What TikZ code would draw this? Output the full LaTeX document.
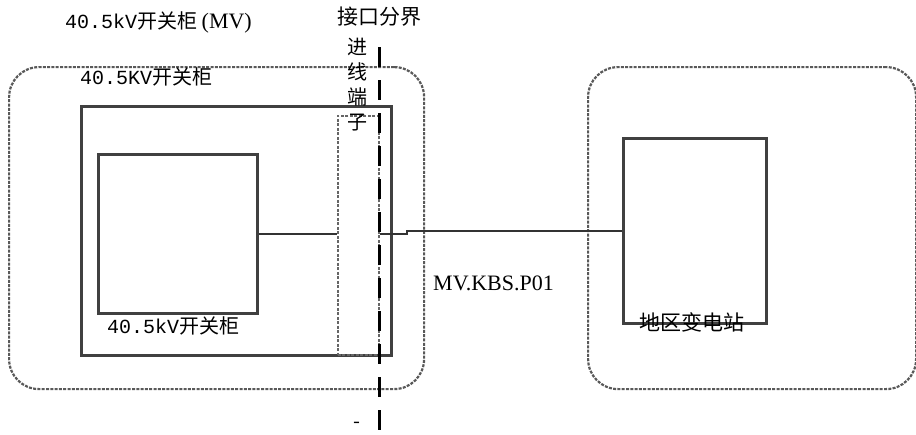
\documentclass[tikz,border=0pt]{standalone}
\usepackage{fontspec}
\setmainfont{Liberation Serif}
\newfontfamily\cjk{Noto Sans CJK SC}
\newfontfamily\mono{Liberation Mono}
\usetikzlibrary{positioning,calc}

\begin{document}
\begin{tikzpicture}[x=1pt,y=-1pt,
    area/.style={draw=black!65,line width=2.2pt,dash pattern=on 3pt off 1.3pt,rounded corners=30pt,inner sep=0pt,anchor=north west},
    box/.style={draw=black!75,line width=2.6pt,inner sep=0pt,anchor=north west},
    termbox/.style={draw=black!60,line width=1.8pt,dash pattern=on 3pt off 1.5pt,inner sep=0pt,anchor=north west},
    boundary/.style={draw=black,line width=3pt,dash pattern=on 20pt off 13pt},
    wire/.style={draw=black!80,line width=2pt},
    txt/.style={inner sep=0pt,font=\cjk\fontsize{20}{25}\selectfont}]
    \useasboundingbox (0,0) rectangle (916,434);

    % areas
    \node[area,minimum width=415pt,minimum height=322pt] at (8,66) (mvarea) {};
    \node[area,minimum width=328pt,minimum height=322pt] at (587,66) (subarea) {};

    % boxes
    \node[box,minimum width=310pt,minimum height=249pt] at (80,105) (cabinet) {};
    \node[box,minimum width=159pt,minimum height=159pt] at (97,153) (panel) {};
    \node[termbox,minimum width=41pt,minimum height=239pt] at (337,115) (term) {};
    \node[box,minimum width=143pt,minimum height=185pt] at (622,137) (sub) {};

    % interface boundary
    \coordinate (bndtop) at (379,47);
    \coordinate (bndbot) at (379,434);
    \draw[boundary] (bndtop) -- (bndbot);

    % connections
    \draw[wire] (panel.east) -- (panel.east -| term.west);
    \draw[wire] (panel.east -| term.east) -- ++(27,0) |- (sub.west);

    % labels
    \node[txt,anchor=west] at (65,22) (title) {{\mono 40.5kV}开关柜 {\rmfamily\fontsize{22}{25}\selectfont (MV)}};
    \node[txt,anchor=west,font=\cjk\fontsize{21}{25}\selectfont] at (337,17) (bndlabel) {接口分界};
    \node[txt,align=center] at (357,85) (termlabel) {进\\线\\端\\子};
    \node[txt,anchor=west] at (80,77) (cablabel) {{\mono 40.5KV}开关柜};
    \node[txt,anchor=west] at (107,326) (panlabel) {{\mono 40.5kV}开关柜};
    \node[txt,anchor=west,font=\rmfamily\fontsize{22}{25}\selectfont] at (433,283) (feeder) {MV.KBS.P01};
    \node[txt,font=\cjk\fontsize{21}{25}\selectfont] at (692,322) (sublabel) {地区变电站};
    \node[txt] at (357,425) (mark) {-};
\end{tikzpicture}
\end{document}
